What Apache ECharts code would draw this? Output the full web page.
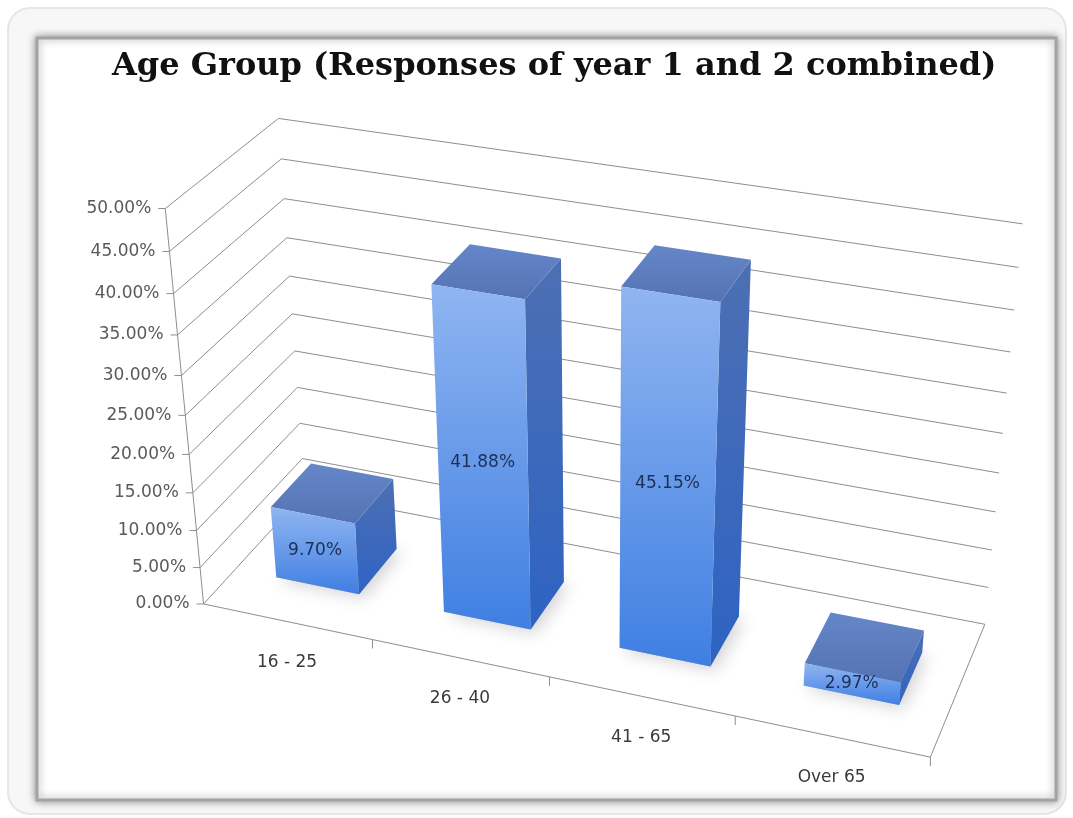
<!DOCTYPE html>
<html>
<head>
<meta charset="utf-8">
<title>Age Group</title>
<script src="https://cdn.jsdelivr.net/npm/echarts@6/dist/echarts.min.js"></script>
<style>
  html, body { margin: 0; padding: 0; background: #fff; }
  #chart { width: 1073px; height: 818px; }
</style>
</head>
<body>
<div id="chart"></div>
<script>
// data
const categories = ['16 - 25', '26 - 40', '41 - 65', 'Over 65'];
const shares = [9.70, 41.88, 45.15, 2.97];
const valueTicks = [0, 5, 10, 15, 20, 25, 30, 35, 40, 45, 50];
const titleText = 'Age Group (Responses of year 1 and 2 combined)';

// where the corners of the 3D box sit on screen: [u, v, w, px, py]
// u = along categories (0..1), v = value share (0..1), w = depth (0 front, 1 back)
const anchors = [
  [0, 0, 0, 203, 604],
  [0.25, 0, 0, 372, 640],
  [0.5, 0, 0, 549, 680],
  [0.75, 0, 0, 735, 718],
  [1, 0, 0, 930, 755],
  [0, 0.2, 0, 197, 529],
  [0, 0.4, 0, 191, 453],
  [0, 1, 0, 165, 208],
  [0, 1, 1, 277, 118],
  [0, 0.9, 1, 282, 159],
  [0, 0.8, 1, 284, 200],
  [1, 1, 1, 1020, 224],
  [1, 0.9, 1, 1021, 268],
  [1, 0.2, 1, 995, 550],
  [1, 0.1, 1, 988, 587],
  [1, 0, 1, 983, 623]
];

const barShare = 0.5;   // bar width as part of the category band
const barFront = 0.3;   // bar depth range
const barBack = 0.7;

// least squares fit of a 3x4 projection (last entry fixed to 1)
function solve(A, b) {
  const n = b.length;
  for (let i = 0; i < n; i++) {
    let m = i;
    for (let r = i + 1; r < n; r++) if (Math.abs(A[r][i]) > Math.abs(A[m][i])) m = r;
    [A[i], A[m]] = [A[m], A[i]];
    [b[i], b[m]] = [b[m], b[i]];
    for (let r = i + 1; r < n; r++) {
      const f = A[r][i] / A[i][i];
      for (let c = i; c < n; c++) A[r][c] -= f * A[i][c];
      b[r] -= f * b[i];
    }
  }
  const x = new Array(n).fill(0);
  for (let i = n - 1; i >= 0; i--) {
    let s = b[i];
    for (let c = i + 1; c < n; c++) s -= A[i][c] * x[c];
    x[i] = s / A[i][i];
  }
  return x;
}

function fitCamera(pts) {
  const N = 11;
  const A = Array.from({ length: N }, () => new Array(N).fill(0));
  const b = new Array(N).fill(0);
  const add = (row, rhs) => {
    for (let i = 0; i < N; i++) {
      b[i] += row[i] * rhs;
      for (let j = 0; j < N; j++) A[i][j] += row[i] * row[j];
    }
  };
  pts.forEach(([X, Y, Z, px, py]) => {
    const x = px / 1000, y = py / 1000;
    add([X, Y, Z, 1, 0, 0, 0, 0, -x * X, -x * Y, -x * Z], x);
    add([0, 0, 0, 0, X, Y, Z, 1, -y * X, -y * Y, -y * Z], y);
  });
  return solve(A, b);
}

const cam = fitCamera(anchors);

function P(u, v, w) {
  const d = cam[8] * u + cam[9] * v + cam[10] * w + 1;
  return [
    1000 * (cam[0] * u + cam[1] * v + cam[2] * w + cam[3]) / d,
    1000 * (cam[4] * u + cam[5] * v + cam[6] * w + cam[7]) / d
  ];
}

// unit position of a data point in the hidden cartesian grid
function unitPos(params, api, cat, val) {
  const cs = params.coordSys;
  const c = api.coord([cat, val]);
  return {
    u: (c[0] - cs.x) / cs.width,
    v: (cs.y + cs.height - c[1]) / cs.height,
    band: api.size([1, 0])[0] / cs.width
  };
}

const lineStyle = { stroke: '#8e8e8e', lineWidth: 1, fill: null };

function renderWalls(params, api) {
  const t = api.value(1);
  const p = unitPos(params, api, 0, t);
  const a = P(0, p.v, 0), b = P(0, p.v, 1), c = P(1, p.v, 1);
  const kids = [
    { type: 'polyline', shape: { points: [a, b, c] }, style: lineStyle, silent: true },
    { type: 'line', shape: { x1: a[0] - 7, y1: a[1], x2: a[0], y2: a[1] }, style: lineStyle, silent: true },
    {
      type: 'text', x: a[0] - 14, y: a[1],
      style: {
        text: t.toFixed(2) + '%', align: 'right', verticalAlign: 'middle',
        fill: '#5a5a5a', font: '17px "DejaVu Sans"'
      },
      silent: true
    }
  ];
  if (params.dataIndex === 0) {
    const top = P(0, 1, 0);
    kids.push({ type: 'line', shape: { x1: a[0], y1: a[1], x2: top[0], y2: top[1] }, style: lineStyle, silent: true });
  }
  return { type: 'group', children: kids };
}

function renderFloor(params, api) {
  const i = api.value(0);
  const p = unitPos(params, api, i, 0);
  const uL = p.u - p.band / 2, uR = p.u + p.band / 2;
  const l = P(uL, 0, 0), r = P(uR, 0, 0), m = P(p.u, 0, 0);
  const kids = [
    { type: 'line', shape: { x1: l[0], y1: l[1], x2: r[0], y2: r[1] }, style: lineStyle, silent: true },
    { type: 'line', shape: { x1: r[0], y1: r[1], x2: r[0], y2: r[1] + 9 }, style: lineStyle, silent: true },
    {
      type: 'text', x: m[0], y: m[1] + 41,
      style: {
        text: categories[i], align: 'center', verticalAlign: 'middle',
        fill: '#3a3a3a', font: '17px "DejaVu Sans"'
      },
      silent: true
    }
  ];
  if (i === categories.length - 1) {
    const back = P(uR, 0, 1);
    kids.push({ type: 'line', shape: { x1: r[0], y1: r[1], x2: back[0], y2: back[1] }, style: lineStyle, silent: true });
  }
  return { type: 'group', children: kids };
}

function area(pts) {
  let s = 0;
  for (let k = 0; k < pts.length; k++) {
    const a = pts[k], b = pts[(k + 1) % pts.length];
    s += a[0] * b[1] - b[0] * a[1];
  }
  return s;
}

function grad(c1, c2, horizontal) {
  return {
    type: 'linear', x: 0, y: 0, x2: horizontal ? 1 : 0, y2: horizontal ? 0 : 1,
    colorStops: [{ offset: 0, color: c1 }, { offset: 1, color: c2 }]
  };
}

function renderBar(params, api) {
  const i = api.value(0);
  const val = api.value(1);
  const p = unitPos(params, api, i, val);
  const u0 = p.u - p.band * barShare / 2, u1 = p.u + p.band * barShare / 2;
  const v = p.v, z0 = barFront, z1 = barBack;

  const faces = {
    front: [[u0, 0, z0], [u1, 0, z0], [u1, v, z0], [u0, v, z0]],
    back: [[u0, 0, z1], [u0, v, z1], [u1, v, z1], [u1, 0, z1]],
    top: [[u0, v, z0], [u1, v, z0], [u1, v, z1], [u0, v, z1]],
    bottom: [[u0, 0, z0], [u0, 0, z1], [u1, 0, z1], [u1, 0, z0]],
    right: [[u1, 0, z0], [u1, 0, z1], [u1, v, z1], [u1, v, z0]],
    left: [[u0, 0, z0], [u0, v, z0], [u0, v, z1], [u0, 0, z1]]
  };
  const fills = {
    front: grad('#90b5f1', '#3f7fe2'),
    back: '#4a6fb8',
    top: grad('#6586c8', '#5473b5'),
    bottom: '#3a6ac0',
    right: grad('#4d6fb3', '#2e63c3'),
    left: grad('#7aa2e6', '#3d74d0')
  };
  const proj = {};
  Object.keys(faces).forEach(k => { proj[k] = faces[k].map(q => P(q[0], q[1], q[2])); });
  const ref = Math.sign(area(proj.front));

  // soft shadow on the floor, cast from the bar footprint
  const kids = [{
    type: 'polygon', shape: { points: proj.bottom },
    style: {
      fill: 'rgba(110,110,125,0.45)', shadowBlur: 16,
      shadowOffsetX: 5, shadowOffsetY: 4, shadowColor: 'rgba(80,80,100,0.55)'
    },
    silent: true
  }];
  ['back', 'bottom', 'left', 'right', 'top', 'front'].forEach(k => {
    if (Math.sign(area(proj[k])) === ref) {
      kids.push({ type: 'polygon', shape: { points: proj[k] }, style: { fill: fills[k], stroke: null }, silent: true });
    }
  });
  const lp = P((u0 + u1) / 2, v / 2, z0);
  kids.push({
    type: 'text', x: lp[0], y: lp[1],
    style: {
      text: val.toFixed(2) + '%', align: 'center', verticalAlign: 'middle',
      fill: '#1d2f55', font: '17px "DejaVu Sans"'
    },
    silent: true
  });
  return { type: 'group', children: kids };
}

const chart = echarts.init(document.getElementById('chart'));
chart.setOption({
  animation: false,
  backgroundColor: '#ffffff',
  title: {
    text: titleText,
    left: 107,
    top: 46,
    textStyle: { fontFamily: 'DejaVu Serif', fontWeight: 'bold', fontSize: 32, color: '#111' }
  },
  graphic: [
    {
      type: 'rect', z: -10, silent: true,
      shape: { x: 8, y: 8, width: 1058, height: 806, r: 22 },
      style: { fill: '#f7f7f7', stroke: '#e6e6e6', lineWidth: 2 }
    },
    {
      type: 'rect', z: -9, silent: true,
      shape: { x: 37, y: 38, width: 1019, height: 762 },
      style: { fill: '#ffffff', stroke: '#a3a3a3', lineWidth: 3, shadowBlur: 8, shadowColor: 'rgba(0,0,0,0.4)' }
    }
  ],
  grid: { left: 0, right: 0, top: 0, bottom: 0 },
  xAxis: { type: 'category', data: categories, show: false },
  yAxis: { type: 'value', min: 0, max: 50, interval: 5, show: false },
  series: [
    {
      type: 'custom', z: 3,
      renderItem: renderWalls,
      data: valueTicks.map(t => [0, t]),
      encode: { x: 0, y: 1 }
    },
    {
      type: 'custom', z: 3,
      renderItem: renderFloor,
      data: categories.map((c, i) => [i, 0]),
      encode: { x: 0, y: 1 }
    },
    {
      type: 'custom', z: 5,
      renderItem: renderBar,
      data: shares.map((s, i) => [i, s]),
      encode: { x: 0, y: 1 }
    }
  ]
});
</script>
</body>
</html>
